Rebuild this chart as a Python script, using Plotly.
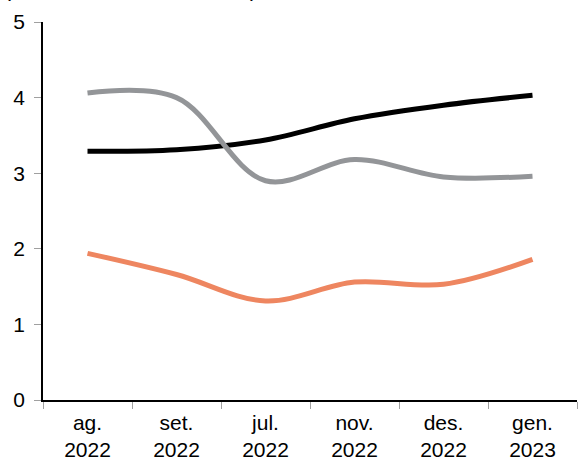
import plotly.graph_objects as go

categories = ["ag.<br>2022", "set.<br>2022", "jul.<br>2022", "nov.<br>2022", "des.<br>2022", "gen.<br>2023"]
black_series = [3.29, 3.31, 3.44, 3.72, 3.90, 4.03]
gray_series = [4.06, 4.00, 2.90, 3.18, 2.95, 2.96]
orange_series = [1.94, 1.66, 1.31, 1.56, 1.53, 1.86]
y_ticks = [0, 1, 2, 3, 4, 5]

W, H = 579, 459
ML, MR, MT, MB = 43, 2, 22, 59

fig = go.Figure()
for vals, col in [(black_series, "#000000"), (gray_series, "#939598"), (orange_series, "#EE8660")]:
    fig.add_trace(go.Scatter(
        x=categories, y=vals, mode="lines",
        line=dict(color=col, width=5, shape="spline", smoothing=1.0),
        showlegend=False, hoverinfo="skip",
    ))

font = dict(family="Liberation Sans, Arial, sans-serif", size=21, color="#000000")

fig.update_layout(
    width=W, height=H,
    margin=dict(l=ML, r=MR, t=MT, b=MB, pad=0),
    paper_bgcolor="white", plot_bgcolor="white",
    font=font,
    xaxis=dict(
        type="category", range=[-0.5, 5.5], automargin=False,
        showline=True, linecolor="#000000", linewidth=1.5,
        ticks="outside", tickson="boundaries", ticklen=7, tickcolor="#A0A0A0", tickwidth=1,
        showgrid=False, zeroline=False, tickfont=dict(size=21), ticklabelstandoff=3,
    ),
    yaxis=dict(
        range=[0, 5], tickvals=y_ticks, automargin=False,
        showline=True, linecolor="#000000", linewidth=1.5,
        ticks="outside", ticklen=7, tickcolor="#A0A0A0", tickwidth=1,
        showgrid=False, zeroline=False, tickfont=dict(size=21), ticklabelstandoff=5,
    ),
)

# partially visible unit caption cut at the top edge
for txt, xp in [("(", 7), (")", 253)]:
    fig.add_annotation(
        text=txt, xref="paper", yref="paper",
        x=(xp - ML) / (W - ML - MR), y=1 + (MT + 11) / (H - MT - MB),
        xanchor="center", yanchor="middle", showarrow=False,
        font=dict(size=21, color="#000000"),
    )

fig.write_html(
    "out.html",
    config={"displayModeBar": False},
    post_script="document.body.style.margin='0';document.body.style.overflow='hidden';",
)
